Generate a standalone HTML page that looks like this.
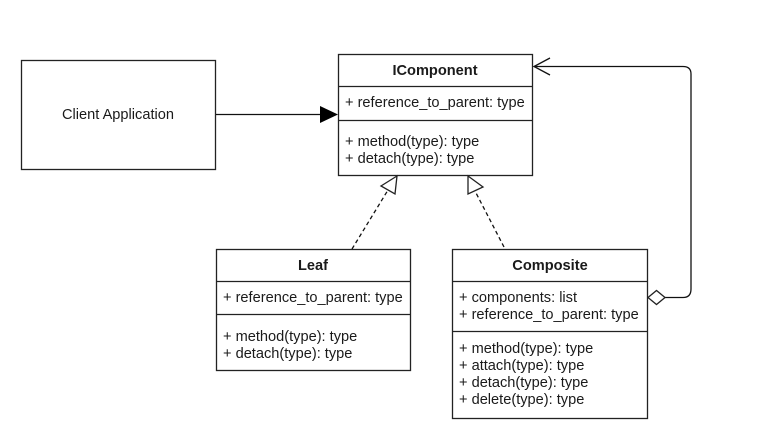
<!DOCTYPE html>
<html><head><style>
body{margin:0;background:#fff;}
svg{display:block;font-family:"Liberation Sans",Arial,sans-serif;font-size:14.6px;}
text{fill:#1a1a1a;}
.b{font-weight:bold;}
</style></head><body>
<svg width="775" height="436" viewBox="0 0 775 436" xmlns="http://www.w3.org/2000/svg">
<g fill="#fff" stroke="#222" stroke-width="1.3">
<rect x="21.5" y="60.5" width="194" height="109"/>
<rect x="338.5" y="54.5" width="194" height="121"/>
<line x1="338.5" y1="86.5" x2="532.5" y2="86.5"/>
<line x1="338.5" y1="120.5" x2="532.5" y2="120.5"/>
<rect x="216.5" y="249.5" width="194" height="121"/>
<line x1="216.5" y1="281.5" x2="410.5" y2="281.5"/>
<line x1="216.5" y1="314.5" x2="410.5" y2="314.5"/>
<rect x="452.5" y="249.5" width="195" height="169"/>
<line x1="452.5" y1="281.5" x2="647.5" y2="281.5"/>
<line x1="452.5" y1="331.5" x2="647.5" y2="331.5"/>
</g>
<g stroke="#111" stroke-width="1.3" fill="none">
<line x1="216" y1="114.5" x2="322" y2="114.5"/>
<path d="M665,297.5 H683 Q691,297.5 691,289 V74 Q691,66.5 683,66.5 H534"/>
<path d="M550,58 L534,66.5 L550,75"/>
<line x1="352" y1="249" x2="388" y2="190" stroke-dasharray="4,3"/>
<line x1="504" y1="247" x2="475" y2="191" stroke-dasharray="4,3"/>
</g>
<polygon points="338,114.5 320,106 320,123" fill="#000"/>
<polygon points="397,176 381,186 395,194" fill="#fff" stroke="#222" stroke-width="1.3"/>
<polygon points="468,176 468,194 483,187" fill="#fff" stroke="#222" stroke-width="1.3"/>
<polygon points="648,297.5 656.5,290.5 665,297.5 656.5,304.5" fill="#fff" stroke="#222" stroke-width="1.3"/>
<text x="118" y="119" text-anchor="middle">Client Application</text>
<text x="435" y="75" text-anchor="middle" class="b">IComponent</text>
<text x="345" y="107">+ reference_to_parent: type</text>
<text x="345" y="146">+ method(type): type</text>
<text x="345" y="163">+ detach(type): type</text>
<text x="313" y="270" text-anchor="middle" class="b">Leaf</text>
<text x="223" y="302">+ reference_to_parent: type</text>
<text x="223" y="341">+ method(type): type</text>
<text x="223" y="358">+ detach(type): type</text>
<text x="550" y="270" text-anchor="middle" class="b">Composite</text>
<text x="459" y="302">+ components: list</text>
<text x="459" y="319">+ reference_to_parent: type</text>
<text x="459" y="353">+ method(type): type</text>
<text x="459" y="370">+ attach(type): type</text>
<text x="459" y="387">+ detach(type): type</text>
<text x="459" y="404">+ delete(type): type</text>
</svg>
</body></html>
